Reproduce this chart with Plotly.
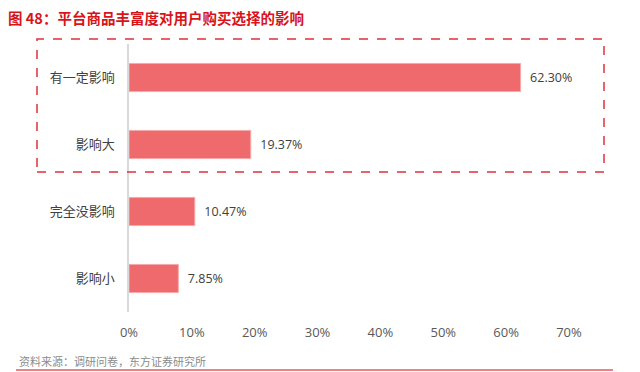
import plotly.graph_objects as go

categories = ["有一定影响", "影响大", "完全没影响", "影响小"]
values = [62.30, 19.37, 10.47, 7.85]
tick_vals = [0, 10, 20, 30, 40, 50, 60, 70]
tick_text = ["0%", "10%", "20%", "30%", "40%", "50%", "60%", "70%"]

title_text = "图 48：平台商品丰富度对用户购买选择的影响"
source_text = "资料来源：调研问卷，东方证券研究所"

font_cjk = "Noto Sans CJK SC"

# page body has an 8px margin; figure is sized to fit the remaining window
W, H = 632, 364
L, T, PW, PH = 121, 36, 440, 268


def px(x_ref):
    return (x_ref - 8 - L) / PW


def py(y_ref):
    return (T + PH - (y_ref - 8)) / PH


fig = go.Figure(go.Bar(
    x=values, y=categories, orientation="h",
    marker=dict(color="#EF6A6C", line=dict(color="#F7A9AA", width=1)),
    width=0.42,
    text=[f"{v:.2f}%" for v in values],
    texttemplate="  %{text}",
    textposition="outside",
    textfont=dict(family="Open Sans, " + font_cjk, size=12.5, color="#404040"),
    cliponaxis=False,
    hoverinfo="skip",
))

fig.update_layout(
    width=W, height=H,
    margin=dict(l=L, r=W - L - PW, t=T, b=H - T - PH),
    paper_bgcolor="white", plot_bgcolor="white",
    showlegend=False,
    title=dict(text="<b>" + title_text + "</b>", x=0, xanchor="left",
               y=1 - 11 / H, yanchor="middle",
               font=dict(family=font_cjk, size=14.5, color="#D7141A")),
    xaxis=dict(range=[0, 70], tickvals=tick_vals, ticktext=tick_text,
               showgrid=False, zeroline=False, showline=False,
               ticks="outside", ticklen=8, tickcolor="rgba(0,0,0,0)",
               tickfont=dict(family="Open Sans, " + font_cjk, size=13, color="#595959"),
               fixedrange=True),
    yaxis=dict(categoryorder="array", categoryarray=categories, autorange="reversed",
               showgrid=False, zeroline=False, showline=True,
               linecolor="#D9D9D9", linewidth=1.5,
               ticks="outside", ticklen=10, tickcolor="rgba(0,0,0,0)",
               tickfont=dict(family=font_cjk, size=13, color="#404040"),
               fixedrange=True),
    shapes=[
        dict(type="rect", xref="paper", yref="paper",
             x0=px(37), x1=px(604), y0=py(172), y1=py(39),
             line=dict(color="#E0303A", width=1.5, dash="dash")),
        dict(type="line", xref="paper", yref="paper",
             x0=px(16), x1=px(613), y0=py(370), y1=py(370),
             line=dict(color="#E8585C", width=1.5)),
    ],
    annotations=[
        dict(text=source_text, xref="paper", yref="paper",
             x=px(17), y=py(361),
             xanchor="left", yanchor="middle", showarrow=False,
             font=dict(family=font_cjk, size=11, color="#8C8C8C")),
    ],
)

fig.write_html("out.html")
